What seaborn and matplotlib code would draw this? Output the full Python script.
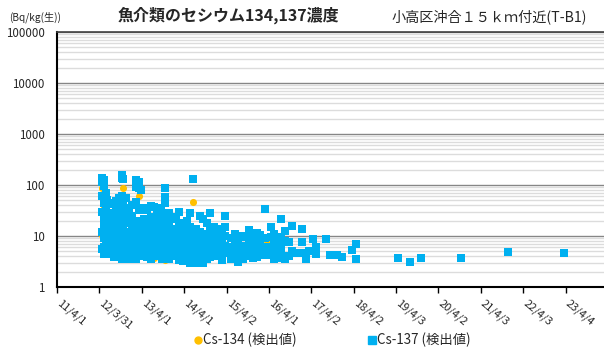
import numpy as np
import pandas as pd
import matplotlib
matplotlib.use("Agg")
import matplotlib.pyplot as plt
import matplotlib.transforms as mtransforms
from matplotlib.lines import Line2D
from matplotlib.ticker import FixedLocator, LogLocator, NullFormatter, FuncFormatter
import seaborn as sns

# Sampling dates and measured concentrations (Bq/kg wet weight)
cs137_dates = [
    "2012-04-26", "2012-05-13", "2012-05-31", "2012-06-08", "2012-06-26",
    "2012-07-13", "2012-08-08", "2012-08-25", "2012-09-20", "2012-10-10",
    "2012-10-25", "2012-11-19", "2012-12-15", "2013-01-10", "2013-02-13",
    "2013-03-11", "2013-03-28", "2013-04-23", "2013-05-19", "2013-06-20",
    "2013-07-18", "2013-08-13", "2013-09-10", "2013-09-25", "2013-10-20",
    "2013-11-24", "2013-12-20", "2014-01-20", "2014-02-18", "2014-03-20",
    "2014-04-27", "2014-05-20", "2014-06-18", "2014-07-15", "2014-08-20",
    "2014-09-15", "2014-10-20", "2014-11-10", "2014-12-16", "2015-01-20",
    "2015-02-23", "2015-03-21", "2015-05-10", "2015-06-10", "2015-07-06",
    "2015-08-18", "2015-09-20", "2015-10-17", "2015-11-20", "2015-12-25",
    "2016-01-20", "2016-03-03", "2016-04-23", "2016-05-19", "2016-06-10",
    "2016-07-18", "2016-08-22", "2016-09-25", "2016-10-21", "2016-11-07",
    "2017-01-15", "2017-02-19", "2017-03-17", "2017-04-20", "2017-05-17",
    "2017-08-03", "2017-09-07", "2017-11-06", "2017-12-19", "2018-03-16",
    "2018-04-20", "2019-04-17", "2019-07-31", "2019-11-04", "2020-10-15",
    "2021-11-20", "2023-03-26",
]
cs137_values = [
    [140, 115, 60, 30, 12, 5.5], [125, 95, 45, 22, 16, 9, 6, 4.5],
    [70, 35, 25, 14, 10, 7, 5], [50, 18, 8, 4.6], [12, 8, 5.5],
    [45, 28, 18, 10, 6.5, 4.5], [42, 20, 14, 9, 6, 3.8],
    [48, 30, 16, 11, 7, 5, 4], [55, 25, 13, 8, 5.5, 4.2],
    [160, 140, 60, 35, 20, 12, 7, 4.5, 3.5],
    [130, 50, 26, 15, 9, 5.5, 3.8], [55, 35, 22, 12, 8, 6, 4.2],
    [30, 18, 10, 7, 5, 3.6], [40, 25, 14, 9, 6, 4.5],
    [125, 92, 46, 20, 11, 7, 5, 3.5], [115, 88, 32, 16, 10, 6.5, 4.2],
    [80, 35, 18, 12, 8, 5.5, 4.0], [35, 22, 13, 8, 5.5, 4.2],
    [32, 18, 11, 7, 5, 3.8], [38, 24, 14, 9, 6, 4.5, 3.5],
    [37, 20, 12, 7.5, 5, 4], [28, 16, 10, 6.5, 4.8],
    [35, 20, 12, 8, 5.5, 4.2], [26, 15, 9, 6, 4.5, 3.5],
    [87, 58, 44, 22, 13, 8, 5.5, 4.0], [28, 17, 10, 7, 5, 3.6],
    [24, 14, 9, 6, 4.3], [22, 13, 8.5, 5.5, 4.0],
    [30, 18, 11, 7, 4.8, 3.4], [16, 10, 6.5, 4.5, 3.2],
    [20, 12, 8, 5, 3.8], [28, 15, 9.5, 6, 4.2, 3.0],
    [130, 11, 7, 4.6], [14, 9, 6, 4.3, 3.0], [25, 12, 7.5, 5, 3.6],
    [22, 10, 6.5, 4.4, 2.95], [18, 11, 7, 4.8, 3.5],
    [28, 13, 8, 5.2, 3.8], [15, 9, 6, 4.2], [12, 8.5, 5.5, 4],
    [14, 9, 6, 4.5, 3.4], [25, 15, 10, 6.5, 4.6], [9, 6, 4.5, 3.5],
    [11, 7, 5, 3.8], [8, 5.5, 4.2, 3.1], [10, 6.5, 4.8, 3.6],
    [9.5, 6, 4.4], [13, 8, 5.5, 4.0], [9, 6.2, 4.5, 3.7],
    [11.5, 7.5, 5, 3.8], [10.5, 6.5, 4.6], [34, 9, 6, 4.3],
    [15, 9.5, 6, 4.2], [11, 7.5, 5, 3.6], [8.5, 5.8, 3.7],
    [21.6, 9.6, 6, 4.6], [12.5, 8, 3.5], [7.6, 4.0], [16, 5], [4.6],
    [13.7, 7.6, 4.6], [3.5], [5.1], [8.7], [6.0, 4.4], [8.7], [4.2],
    [4.2], [3.9], [5.3], [7.0, 3.5], [3.7], [3.1], [3.7], [3.7],
    [4.9], [4.6],
]

cs134_dates = [
    "2012-04-26", "2012-05-13", "2012-05-31", "2012-07-13", "2012-08-25",
    "2012-09-20", "2012-10-25", "2012-11-19", "2013-01-10", "2013-02-13",
    "2013-03-11", "2013-04-23", "2013-06-20", "2013-07-18", "2013-09-25",
    "2013-10-20", "2013-12-20", "2014-02-18", "2014-04-27", "2014-06-18",
    "2014-07-23", "2014-09-15", "2014-11-10", "2015-02-23", "2015-09-20",
    "2016-03-12", "2016-07-18",
]
cs134_values = [
    [88, 10.5], [35, 5.5], [18, 7], [6], [23.5, 5.8], [12, 5],
    [88, 20, 7], [9, 4.5], [8.3, 6.5], [46, 7.3], [61, 12], [9, 4.5],
    [3.5, 6], [3.7], [16, 5], [3.4, 8], [6], [4], [3.4], [46], [6.6],
    [4], [5.5], [4.5], [4.2], [7.3], [4.9],
]

tick_dates = [
    "2011-04-01", "2012-03-31", "2013-04-01", "2014-04-01", "2015-04-02",
    "2016-04-01", "2017-04-02", "2018-04-02", "2019-04-03", "2020-04-02",
    "2021-04-03", "2022-04-03", "2023-04-04",
]
tick_labels = [
    "11/4/1", "12/3/31", "13/4/1", "14/4/1", "15/4/2", "16/4/1", "17/4/2",
    "18/4/2", "19/4/3", "20/4/2", "21/4/3", "22/4/3", "23/4/4",
]

labels = ["Cs-134 (検出値)", "Cs-137 (検出値)"]
colors = ["#FFC000", "#00B0F0"]


def to_frame(dates, values):
    return pd.DataFrame({
        "date": pd.to_datetime([d for d, vs in zip(dates, values) for _ in vs]),
        "bq": [v for vs in values for v in vs],
    })


df134 = to_frame(cs134_dates, cs134_values)
df137 = to_frame(cs137_dates, cs137_values)

sns.set_theme(style="white")
plt.rcParams["font.family"] = ["Noto Sans CJK JP", "DejaVu Sans"]

fig = plt.figure(figsize=(6.04, 3.56), dpi=100)
ax = fig.add_axes([57 / 604, 69 / 356, 1 - 57 / 604, 255 / 356])

sns.scatterplot(data=df134, x="date", y="bq", marker="o", color=colors[0],
                s=26, linewidth=0, ax=ax, zorder=3)
sns.scatterplot(data=df137, x="date", y="bq", marker="s", color=colors[1],
                s=34, linewidth=0, ax=ax, zorder=4)

ax.set_yscale("log")
ax.set_ylim(1, 1e5)
ax.yaxis.set_major_locator(FixedLocator([1, 10, 100, 1000, 10000, 100000]))
ax.yaxis.set_major_formatter(FuncFormatter(lambda v, p: f"{v:.0f}"))
ax.yaxis.set_minor_locator(LogLocator(base=10, subs=np.arange(2, 10)))
ax.yaxis.set_minor_formatter(NullFormatter())

ax.grid(False)
ax.yaxis.grid(True, which="minor", color="#dcdcdc", lw=1.0)
ax.yaxis.grid(True, which="major", color="#868686", lw=1.0)
ax.set_axisbelow(True)

ax.set_xlim(pd.Timestamp("2011-04-01"), pd.Timestamp("2024-03-01"))
ax.set_xticks(pd.to_datetime(tick_dates))
ax.set_xticklabels(tick_labels, rotation=-40, ha="left", va="top",
                   rotation_mode="anchor")
ax.tick_params(axis="x", direction="out", length=4, width=1, color="black",
               pad=4, labelsize=8, bottom=True)
ax.tick_params(axis="y", which="both", length=0, pad=9, labelsize=8.3)
ax.set_xlabel("")
ax.set_ylabel("")

shift = mtransforms.ScaledTranslation(5 / 100, 0, fig.dpi_scale_trans)
for lab in ax.get_xticklabels():
    lab.set_transform(lab.get_transform() + shift)

for side in ["left", "bottom"]:
    ax.spines[side].set_color("black")
    ax.spines[side].set_linewidth(1.5)
ax.spines["top"].set_color("#404040")
ax.spines["top"].set_linewidth(1.2)
ax.spines["right"].set_visible(False)

fig.text(35 / 604, 1 - 17 / 356, "(Bq/kg(生))", ha="center", va="center",
         fontsize=7.3)
fig.text(228 / 604, 1 - 15 / 356, "魚介類のセシウム134,137濃度", ha="center",
         va="center", fontsize=11.5, weight="bold")
fig.text(489 / 604, 1 - 17 / 356, "小高区沖合１５ｋｍ付近(T-B1)", ha="center",
         va="center", fontsize=10.2)

handles = [
    Line2D([], [], marker="o", color=colors[0], ls="none", markersize=5),
    Line2D([], [], marker="s", color=colors[1], ls="none", markersize=5.5),
]
fig.legend(handles, labels, loc="center", bbox_to_anchor=(0.551, 0.045),
           ncol=2, frameon=False, handlelength=0.5, handletextpad=0.15,
           columnspacing=5.4, fontsize=9.6)

fig.savefig("out.png", dpi=100)
